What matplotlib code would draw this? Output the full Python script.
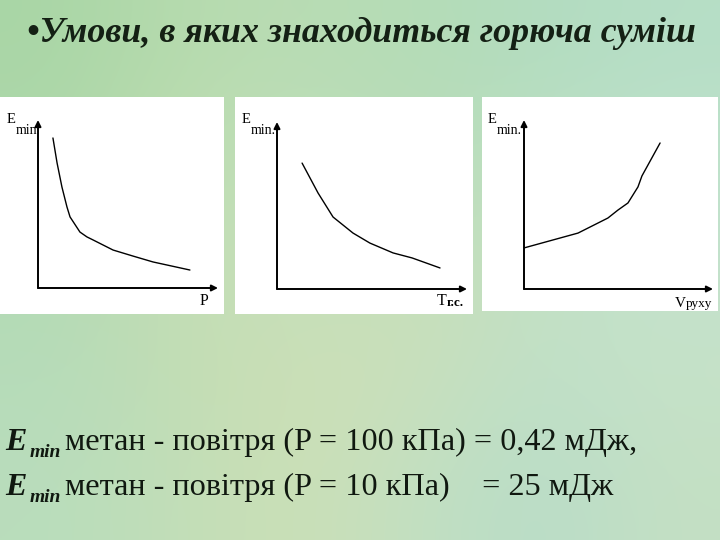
import numpy as np
import matplotlib
matplotlib.use("Agg")
import matplotlib.pyplot as plt
from matplotlib.colors import to_rgb

# ---------------- data (axis units: 0..10 along each drawn axis) ----------------
title_text = "•Умови, в яких знаходиться горюча суміш"

# panel 1: E_min vs P
p_x = [0.83, 1.06, 1.33, 1.61, 1.78, 2.00, 2.33, 2.72, 3.06, 4.17, 5.28, 6.39, 8.44]
p_e = [8.93, 7.44, 6.01, 4.82, 4.23, 3.87, 3.33, 3.04, 2.86, 2.26, 1.90, 1.55, 1.07]

# panel 2: E_min vs T г.с.
t_x = [1.32, 2.16, 2.95, 4.00, 4.89, 6.11, 7.11, 8.58]
t_e = [7.54, 5.75, 4.31, 3.35, 2.75, 2.16, 1.86, 1.26]

# panel 3: E_min vs V руху
v_x = [0.00, 2.86, 4.44, 4.97, 5.50, 6.03, 6.24, 6.56, 7.20]
v_e = [2.43, 3.31, 4.20, 4.67, 5.09, 6.04, 6.69, 7.34, 8.64]

line1_text = "метан - повітря (P = 100 кПа) = 0,42 мДж,"
line2_text = "метан - повітря (P = 10 кПа)    = 25 мДж"

W, H = 720, 540
fig = plt.figure(figsize=(7.2, 5.4), dpi=100)

def px(x, y):
    return x / W, 1 - y / H

# ---------------- background gradient ----------------
bg = fig.add_axes([0, 0, 1, 1])
grid_cols = [
    ["#a9d6a6", "#b6dbae", "#b9dcb4", "#b4dcb6", "#b2dcc0", "#b6dec6"],
    ["#aed8ab", "#c0ddb0", "#bfe0bc", "#b9ddb8", "#bde0c4", "#bfe2cc"],
    ["#b2dab4", "#c6deb4", "#c4e0bc", "#c8dfb8", "#c2e0c4", "#c4e2cc"],
    ["#b6dcba", "#c2ddb4", "#cddfb6", "#c9e0bc", "#bfe0c8", "#c6e2c8"],
    ["#b9ddbc", "#c2deb8", "#cce0b6", "#c2e0c2", "#b8dcc8", "#c4e0c4"],
]
img = np.array([[to_rgb(c) for c in row] for row in grid_cols])
bg.imshow(img, aspect="auto", interpolation="bicubic", extent=[0, 1, 0, 1])
bg.set_xlim(0, 1)
bg.set_ylim(0, 1)
bg.axis("off")

# ---------------- panels ----------------
def make_panel(box, origin, xend, ytop, xs, ys):
    x0, y0, x1, y1 = box
    ox, oy = origin
    sx = (xend - ox) / 10.0
    sy = (oy - ytop) / 10.0
    ax = fig.add_axes([x0 / W, 1 - y1 / H, (x1 - x0) / W, (y1 - y0) / H])
    ax.set_facecolor("white")
    ax.set_xlim((x0 - ox) / sx, (x1 - ox) / sx)
    ax.set_ylim((oy - y1) / sy, (oy - y0) / sy)
    for s in ax.spines.values():
        s.set_visible(False)
    ax.set_xticks([])
    ax.set_yticks([])
    ap = dict(arrowstyle="-|>", lw=1.4, color="black", mutation_scale=9,
              shrinkA=0, shrinkB=0)
    ax.annotate("", xy=(10, 0), xytext=(0, 0), arrowprops=ap)
    ax.annotate("", xy=(0, 10), xytext=(0, 0), arrowprops=ap)
    ax.plot(xs, ys, color="black", lw=1.0, solid_capstyle="round",
            solid_joinstyle="round")
    return ax

make_panel((0, 97, 224, 314), (38, 288), 218, 120, p_x, p_e)
make_panel((235, 97, 473, 314), (277, 289), 467, 122, t_x, t_e)
make_panel((482, 97, 718, 311), (524, 289), 713, 120, v_x, v_e)

serif = "Liberation Serif"

def ftext(x, y, s, **kw):
    kw.setdefault("family", serif)
    kw.setdefault("va", "baseline")
    kw.setdefault("color", "black")
    fig.text(*px(x, y), s, **kw)

# panel labels
for ex, mx, mtxt in [(7, 16, "min"), (242, 251, "min."), (488, 497, "min.")]:
    ftext(ex, 123, "E", fontsize=10.5)
    ftext(mx, 134, mtxt, fontsize=10)
ftext(200, 305, "P", fontsize=11.5)
ftext(437, 305, "T", fontsize=11.5)
ftext(447, 306, "г.с.", fontsize=9.5, weight="bold")
ftext(675, 307, "V", fontsize=11)
ftext(686, 307, "рухy", fontsize=9.5)

# ---------------- title ----------------
ftext(361, 42, title_text, fontsize=25.8, weight="bold", style="italic",
      ha="center", color="#142014")

# ---------------- bottom lines ----------------
for yb, txt in [(450, line1_text), (495, line2_text)]:
    ftext(5, yb, "E", fontsize=23, weight="bold", style="italic", color="#101810")
    ftext(30, yb + 7, "min", fontsize=14, weight="bold", style="italic", color="#101810")
    ftext(65, yb, txt, fontsize=23.2, color="#101810")

fig.savefig("out.png", dpi=100)
